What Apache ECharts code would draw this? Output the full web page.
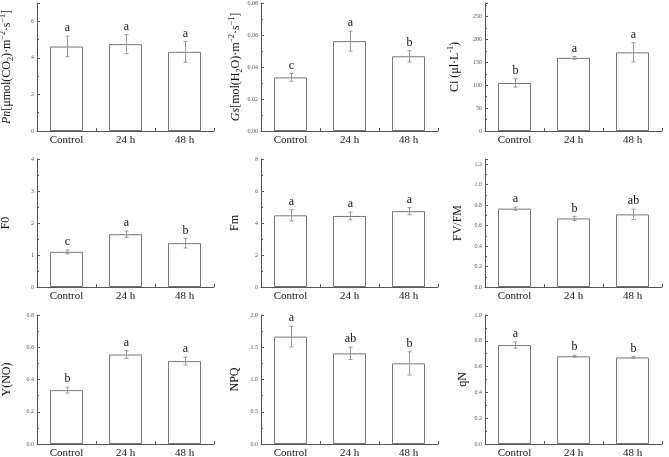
<!DOCTYPE html>
<html><head><meta charset="utf-8">
<script src="https://cdn.jsdelivr.net/npm/echarts@6/dist/echarts.min.js"></script>
<style>html,body{margin:0;padding:0;background:#fff}#c{width:669px;height:457px}</style>
</head><body><div id="c"></div>
<script>
var categories = ['Control', '24 h', '48 h'];

var pnMean = [4.62, 4.75, 4.33];      var pnErr = [0.56, 0.52, 0.57];      var pnLetters = ['a', 'a', 'a'];
var gsMean = [0.0335, 0.0562, 0.0467]; var gsErr = [0.0024, 0.0062, 0.0035]; var gsLetters = ['c', 'a', 'b'];
var ciMean = [105, 160, 172];          var ciErr = [9, 3, 21];              var ciLetters = ['b', 'a', 'a'];
var f0Mean = [1.10, 1.65, 1.37];       var f0Err = [0.06, 0.10, 0.15];      var f0Letters = ['c', 'a', 'b'];
var fmMean = [4.48, 4.44, 4.74];       var fmErr = [0.35, 0.24, 0.22];      var fmLetters = ['a', 'a', 'a'];
var fvfmMean = [0.765, 0.670, 0.709];  var fvfmErr = [0.015, 0.02, 0.05];   var fvfmLetters = ['a', 'b', 'ab'];
var ynoMean = [0.334, 0.555, 0.514];   var ynoErr = [0.018, 0.024, 0.024];  var ynoLetters = ['b', 'a', 'a'];
var npqMean = [1.665, 1.405, 1.25];    var npqErr = [0.16, 0.095, 0.18];    var npqLetters = ['a', 'ab', 'b'];
var qnMean = [0.767, 0.680, 0.671];    var qnErr = [0.024, 0.008, 0.008];   var qnLetters = ['a', 'b', 'b'];

// y-axis tick setup per panel: [max, interval, decimals]
var pnAxis = [7, 2, 0];
var gsAxis = [0.08, 0.02, 2];
var ciAxis = [280, 50, 0];
var f0Axis = [4, 1, 0];
var fmAxis = [8, 2, 0];
var fvfmAxis = [1.25, 0.2, 1];
var ynoAxis = [0.8, 0.2, 1];
var npqAxis = [2.0, 0.5, 1];
var qnAxis = [1.0, 0.2, 1];

var serif = '"Liberation Serif","Times New Roman",serif';
var rich = {
  i: {fontFamily: serif, fontSize: 12, fontStyle: 'italic', color: '#111'},
  n: {fontFamily: serif, fontSize: 12, color: '#111'},
  sub: {fontFamily: serif, fontSize: 8, color: '#111', verticalAlign: 'bottom', lineHeight: 16},
  sup: {fontFamily: serif, fontSize: 8, color: '#111', verticalAlign: 'top', lineHeight: 16}
};

var panels = [
  {mean: pnMean, err: pnErr, letters: pnLetters, ax: pnAxis, name: '{i|Pn}{n|[μmol(CO}{sub|2}{n|)·m}{sup|−2}{n|·s}{sup|−1}{n|]}', gap: 22},
  {mean: gsMean, err: gsErr, letters: gsLetters, ax: gsAxis, name: '{i|Gs}{n|[mol(H}{sub|2}{n|O)·m}{sup|−2}{n|·s}{sup|−1}{n|]}', gap: 17},
  {mean: ciMean, err: ciErr, letters: ciLetters, ax: ciAxis, name: '{n|Ci (μl·L}{sup|-1}{n|)}', gap: 22},
  {mean: f0Mean, err: f0Err, letters: f0Letters, ax: f0Axis, name: '{n|F0}', gap: 25},
  {mean: fmMean, err: fmErr, letters: fmLetters, ax: fmAxis, name: '{n|Fm}', gap: 20},
  {mean: fvfmMean, err: fvfmErr, letters: fvfmLetters, ax: fvfmAxis, name: '{n|FV/FM}', gap: 21},
  {mean: ynoMean, err: ynoErr, letters: ynoLetters, ax: ynoAxis, name: '{n|Y(NO)}', gap: 24},
  {mean: npqMean, err: npqErr, letters: npqLetters, ax: npqAxis, name: '{n|NPQ}', gap: 20},
  {mean: qnMean, err: qnErr, letters: qnLetters, ax: qnAxis, name: '{n|qN}', gap: 16}
];

var lefts = [37, 261, 485];
var tops = [3, 159, 315];
var heights = [128, 128, 129];
var W = 177;

var grid = [], xAxis = [], yAxis = [], series = [];
panels.forEach(function (p, k) {
  var col = k % 3, row = Math.floor(k / 3);
  grid.push({left: lefts[col], top: tops[row], width: W, height: heights[row], containLabel: false, outerBoundsMode: 'none'});
  var lineStyle = {color: '#555', width: 1};
  xAxis.push({
    type: 'category', gridIndex: k, data: categories,
    axisLine: {lineStyle: lineStyle},
    axisTick: {show: true, inside: true, length: 3, lineStyle: lineStyle},
    axisLabel: {fontFamily: serif, fontSize: 11, color: '#111', margin: 4}
  });
  xAxis.push({
    type: 'category', gridIndex: k, data: categories, position: 'bottom',
    axisLine: {show: false},
    axisTick: {show: true, inside: true, length: 3, alignWithLabel: true, lineStyle: lineStyle},
    axisLabel: {show: false}
  });
  var dec = p.ax[2];
  var ratio = p.ax[0] / p.ax[1];
  yAxis.push({
    type: 'value', gridIndex: k, min: 0, max: p.ax[0], interval: p.ax[1],
    name: p.name, nameLocation: 'middle', nameGap: p.gap, nameRotate: 90,
    nameTextStyle: {rich: rich},
    axisLine: {show: true, lineStyle: lineStyle},
    axisTick: {show: true, inside: true, length: 3, lineStyle: lineStyle},
    minorTick: {show: true, splitNumber: 2, length: 2, lineStyle: lineStyle},
    splitLine: {show: false},
    axisLabel: {fontFamily: serif, fontSize: 6, color: '#555', margin: 3,
      showMaxLabel: Math.abs(ratio - Math.round(ratio)) < 1e-9,
      formatter: function (v) { return v.toFixed(dec); }}
  });
  series.push({
    type: 'bar', xAxisIndex: 2 * k, yAxisIndex: k, data: p.mean, barWidth: 33,
    itemStyle: {color: '#fff', borderColor: '#777', borderWidth: 1},
    silent: true
  });
  var errData = p.mean.map(function (m, i) { return [i, m, p.err[i]]; });
  series.push({
    type: 'custom', xAxisIndex: 2 * k, yAxisIndex: k, data: errData, z: 5,
    renderItem: function (params, api) {
      var i = api.value(0), m = api.value(1), e = api.value(2);
      var hi = api.coord([i, m + e]), lo = api.coord([i, m - e]);
      var x = Math.round(hi[0]) + 0.5;
      var st = {stroke: '#999', lineWidth: 1};
      return {type: 'group', children: [
        {type: 'line', shape: {x1: x, y1: hi[1], x2: x, y2: lo[1]}, style: st},
        {type: 'line', shape: {x1: x - 2, y1: hi[1], x2: x + 2, y2: hi[1]}, style: st},
        {type: 'line', shape: {x1: x - 2, y1: lo[1], x2: x + 2, y2: lo[1]}, style: st},
        {type: 'text', x: x, y: hi[1] - 2, style: {text: p.letters[i], fill: '#111', font: '12px ' + serif, textAlign: 'center', textVerticalAlign: 'bottom'}}
      ]};
    }
  });
});

var chart = echarts.init(document.getElementById('c'), null, {renderer: 'canvas'});
chart.setOption({animation: false, grid: grid, xAxis: xAxis, yAxis: yAxis, series: series});
</script>
</body></html>
